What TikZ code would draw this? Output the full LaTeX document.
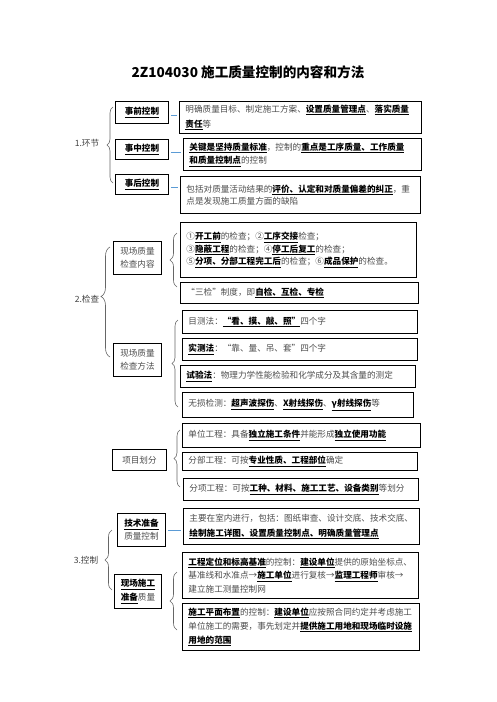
\documentclass[tikz,border=0pt]{standalone}
\usepackage{fontspec}
\setmainfont{Noto Sans CJK SC}
\usetikzlibrary{decorations.pathreplacing}
\newcommand\kw[1]{{\color{black}\bfseries\underline{#1}}}
\begin{document}
\begin{tikzpicture}[x=1pt,y=-1pt,
  lab/.style={font=\fontsize{8.6}{13}\selectfont, text=black!75},
  lbox/.style={draw, line width=0.9pt, inner sep=0pt, align=center, anchor=north west,
    font=\fontsize{8.6}{13}\selectfont, text=black!70},
  rbox/.style={draw, line width=0.9pt, inner xsep=6pt, inner ysep=0pt, align=left, anchor=north west,
    font=\fontsize{8.6}{14}\selectfont, text=black!70},
  link/.style={draw={rgb,255:red,91;green,155;blue,213}, line width=0.7pt, shorten <=2pt, shorten >=2pt},
  brc/.style={draw=black!60, line width=0.6pt, decorate},
]
\useasboundingbox (0,0) rectangle (496,702);

\node[font=\fontsize{13.6}{15}\selectfont\bfseries] (title) at (248,72) {2Z104030 施工质量控制的内容和方法};

% ---------- 1. 环节
\node[lab] (lab1) at (87,143) {1.环节};
\node[lbox, minimum width=53pt, minimum height=22pt] (L1) at (115,101) {\kw{事前控制}};
\node[lbox, minimum width=53pt, minimum height=20pt] (L2) at (115,139) {\kw{事中控制}};
\node[lbox, minimum width=53pt, minimum height=20pt] (L3) at (115,174) {\kw{事后控制}};
\node[rbox, text width=230pt, minimum height=32pt, font=\fontsize{8.6}{15}\selectfont] (R1) at (179,101)
  {明确质量目标、制定施工方案、\kw{设置质量管理点}、\kw{落实质量}\\\kw{责任}等};
\node[rbox, text width=226pt, minimum height=32pt, font=\fontsize{8.6}{13.5}\selectfont] (R2) at (183,138)
  {\kw{关键是坚持质量标准}，控制的\kw{重点是工序质量、工作质量}\\\kw{和质量控制点}的控制};
\node[rbox, text width=228pt, minimum height=37pt, font=\fontsize{8.6}{12.5}\selectfont] (R3) at (180,176)
  {包括对质量活动结果的\kw{评价、认定和对质量偏差的纠正}，重\\点是发现施工质量方面的缺陷};
\draw[link, transform canvas={yshift=-3pt}] (L1) -- (L1 -| R1.west);
\draw[link, transform canvas={yshift=-3pt}] (L2) -- (L2 -| R2.west);
\draw[link, transform canvas={yshift=-3pt}] (L3) -- (L3 -| R3.west);
\coordinate (b1a) at (113,183);
\coordinate (b1b) at (113,107);
\draw[brc, decoration={brace, amplitude=6pt}] (b1a) -- (b1b);

% ---------- 2. 检查
\node[lab] (lab2) at (87,299) {2.检查};
\coordinate (b2a) at (110,357);
\coordinate (b2b) at (110,247);
\draw[brc, decoration={brace, amplitude=9pt, aspect=0.55}] (b2a) -- (b2b);

\node[lbox, minimum width=48pt, minimum height=33pt] (L4) at (113,241) {现场质量\\检查内容};
\node[rbox, text width=224pt, minimum height=55pt, font=\fontsize{8.6}{12.5}\selectfont] (R4) at (180,222)
  {①\kw{开工前}的检查；②\kw{工序交接}检查；\\③\kw{隐蔽工程}的检查；④\kw{停工后复工}的检查；\\⑤\kw{分项、分部工程完工后}的检查；⑥\kw{成品保护}的检查。};
\node[rbox, text width=226pt, minimum height=21pt] (R5) at (180,282)
  {“三检”制度，即\kw{自检、互检、专检}};
\coordinate (b2c) at (177,287);
\coordinate (b2d) at (177,233);
\draw[brc, decoration={brace, amplitude=7pt}] (b2c) -- (b2d);

\node[lbox, minimum width=48pt, minimum height=33pt] (L5) at (113,343) {现场质量\\检查方法};
\node[rbox, text width=223pt, minimum height=23pt] (R6) at (182,310)
  {目测法：\kw{“看、摸、敲、照”}四个字};
\node[rbox, text width=223pt, minimum height=22pt] (R7) at (182,338)
  {\kw{实测法}：“靠、量、吊、套”四个字};
\node[rbox, text width=223pt, minimum height=22pt] (R8) at (180,365)
  {\kw{试验法}：物理力学性能检验和化学成分及其含量的测定};
\node[rbox, text width=219pt, minimum height=25pt] (R9) at (182,392)
  {无损检测：\kw{超声波探伤}、\kw{X射线探伤}、\kw{γ射线探伤}等};
\coordinate (b2e) at (178,407);
\coordinate (b2f) at (178,320);
\draw[brc, decoration={brace, amplitude=6pt}] (b2e) -- (b2f);

% ---------- 项目划分
\node[lbox, minimum width=54pt, minimum height=21pt] (L6) at (112,449) {项目划分};
\node[rbox, text width=226pt, minimum height=24pt] (R10) at (182,423)
  {单位工程：具备\kw{独立施工条件}并能形成\kw{独立使用功能}};
\node[rbox, text width=223pt, minimum height=18pt] (R11) at (182,452)
  {分部工程：可按\kw{专业性质、工程部位}确定};
\node[rbox, text width=223pt, minimum height=22pt] (R12) at (183,478)
  {分项工程：可按\kw{工种、材料、施工工艺、设备类别}等划分};
\coordinate (b4a) at (180,487);
\coordinate (b4b) at (180,430);
\draw[brc, decoration={brace, amplitude=6pt}] (b4a) -- (b4b);

% ---------- 3. 控制
\node[lab] (lab3) at (86,560) {3.控制};
\coordinate (b3a) at (112,590);
\coordinate (b3b) at (112,530);
\draw[brc, decoration={brace, amplitude=7pt}] (b3a) -- (b3b);

\node[lbox, minimum width=48pt, minimum height=33pt] (L7) at (117,513) {\kw{技术准备}\\质量控制};
\node[rbox, text width=224pt, minimum height=36pt, font=\fontsize{8.6}{15}\selectfont] (R13) at (183,508)
  {主要在室内进行，包括：图纸审查、设计交底、技术交底、\\\kw{绘制施工详图、设置质量控制点、明确质量管理点}};
\draw[link] (L7) -- (L7 -| R13.west);

\node[lbox, minimum width=47pt, minimum height=34pt, font=\fontsize{8.6}{14}\selectfont] (L8) at (114,574) {\kw{现场施工}\\\kw{准备}质量};
\node[rbox, text width=224pt, minimum height=46pt, font=\fontsize{8.6}{13.5}\selectfont] (R14) at (182,552)
  {\kw{工程定位和标高基准}的控制：\kw{建设单位}提供的原始坐标点、\\基准线和水准点→\kw{施工单位}进行复核→\kw{监理工程师}审核→\\建立施工测量控制网};
\node[rbox, text width=225pt, minimum height=47pt, font=\fontsize{8.6}{14}\selectfont] (R15) at (182,603)
  {\kw{施工平面布置}的控制：\kw{建设单位}应按照合同约定并考虑施工\\单位施工的需要，事先划定并\kw{提供施工用地和现场临时设施}\\\kw{用地的范围}};
\coordinate (b3c) at (177,630);
\coordinate (b3d) at (177,572);
\draw[brc, decoration={brace, amplitude=7pt}] (b3c) -- (b3d);
\end{tikzpicture}
\end{document}
